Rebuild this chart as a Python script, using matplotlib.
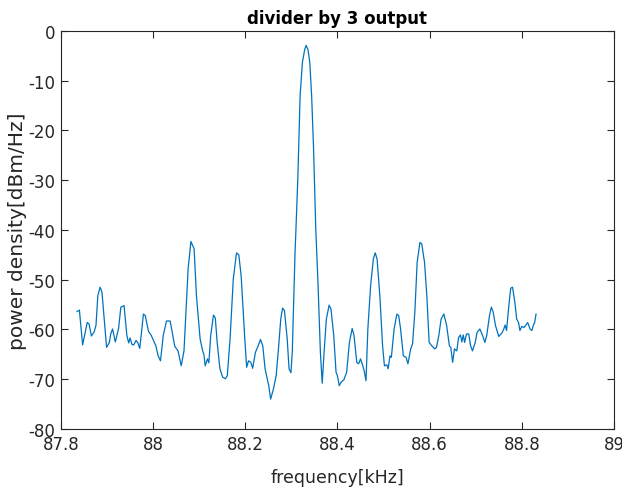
import numpy as np
import matplotlib
matplotlib.use('Agg')
import matplotlib.pyplot as plt

# spectrum
freq = [87.835, 87.840, 87.847, 87.857, 87.861, 87.866, 87.872, 87.876, 87.880, 87.885,
        87.889, 87.899, 87.905, 87.908, 87.912, 87.918, 87.925, 87.930, 87.937, 87.943,
        87.947, 87.950, 87.954, 87.958, 87.963, 87.967, 87.971, 87.979, 87.983, 87.990,
        87.996, 88.006, 88.011, 88.016, 88.022, 88.029, 88.037, 88.047, 88.054, 88.061,
        88.067, 88.076, 88.082, 88.089, 88.094, 88.102, 88.108, 88.110, 88.113, 88.118,
        88.121, 88.125, 88.131, 88.135, 88.139, 88.145, 88.151, 88.157, 88.161, 88.167,
        88.174, 88.181, 88.186, 88.191, 88.199, 88.203, 88.207, 88.212, 88.216, 88.222,
        88.228, 88.233, 88.238, 88.243, 88.248, 88.251, 88.255, 88.261, 88.267, 88.272,
        88.277, 88.281, 88.285, 88.291, 88.295, 88.299, 88.302, 88.305, 88.308, 88.310,
        88.314, 88.317, 88.319, 88.324, 88.329, 88.332, 88.336, 88.340, 88.344, 88.348,
        88.353, 88.358, 88.363, 88.367, 88.371, 88.376, 88.382, 88.386, 88.392, 88.397,
        88.400, 88.404, 88.408, 88.414, 88.420, 88.426, 88.432, 88.436, 88.442, 88.446,
        88.450, 88.455, 88.458, 88.462, 88.466, 88.472, 88.478, 88.482, 88.486, 88.492,
        88.498, 88.502, 88.507, 88.510, 88.514, 88.517, 88.523, 88.529, 88.533, 88.537,
        88.543, 88.549, 88.553, 88.559, 88.563, 88.568, 88.573, 88.579, 88.583, 88.589,
        88.594, 88.599, 88.605, 88.611, 88.615, 88.620, 88.625, 88.631, 88.637, 88.643,
        88.646, 88.650, 88.654, 88.659, 88.663, 88.667, 88.670, 88.673, 88.676, 88.680,
        88.685, 88.689, 88.693, 88.699, 88.703, 88.709, 88.715, 88.720, 88.724, 88.730,
        88.734, 88.738, 88.743, 88.750, 88.757, 88.761, 88.764, 88.767, 88.772, 88.776,
        88.780, 88.785, 88.789, 88.793, 88.796, 88.800, 88.805, 88.809, 88.813, 88.818,
        88.822, 88.825, 88.828, 88.831]

power = [-56.4, -56.1, -63.1, -58.6, -58.9, -61.3, -60.5, -59.2, -53.2, -51.5,
         -52.5, -63.6, -62.6, -60.9, -59.9, -62.5, -59.8, -55.5, -55.2, -61.2,
         -62.7, -61.7, -63.0, -63.1, -62.2, -62.7, -63.8, -56.9, -57.2, -60.4,
         -61.2, -63.3, -65.3, -66.3, -61.2, -58.3, -58.3, -63.4, -64.3, -67.3,
         -64.3, -47.8, -42.3, -43.8, -53.2, -61.9, -64.5, -64.9, -67.3, -65.9,
         -66.7, -61.2, -57.1, -57.7, -62.6, -67.9, -69.6, -69.9, -69.3, -61.9,
         -49.8, -44.6, -45.0, -49.2, -61.9, -67.6, -66.3, -66.6, -67.8, -64.6,
         -63.3, -62.0, -63.3, -67.9, -70.1, -71.3, -74.0, -72.0, -69.3, -63.9,
         -57.9, -55.7, -56.2, -61.9, -67.9, -68.7, -64.6, -54.5, -44.5, -39.8,
         -29.7, -19.7, -13.0, -6.3, -3.7, -2.9, -3.7, -6.3, -13.0, -23.1,
         -39.8, -51.2, -64.6, -70.8, -64.6, -57.9, -55.1, -55.9, -61.2, -68.6,
         -69.3, -71.3, -70.6, -70.1, -68.6, -62.6, -59.8, -61.2, -66.6, -66.9,
         -65.9, -67.3, -68.3, -70.3, -59.9, -51.2, -45.8, -44.6, -45.8, -53.2,
         -63.3, -67.3, -67.1, -67.9, -65.3, -65.6, -59.9, -56.9, -57.2, -59.9,
         -65.3, -65.6, -66.9, -63.9, -62.9, -56.5, -46.5, -42.5, -42.8, -46.5,
         -53.2, -62.6, -63.3, -63.9, -63.6, -61.2, -57.9, -56.9, -59.2, -63.3,
         -63.6, -66.6, -63.9, -64.3, -61.6, -61.1, -62.5, -61.1, -62.6, -60.9,
         -60.9, -63.3, -64.3, -62.6, -60.6, -59.9, -61.2, -62.6, -61.2, -57.2,
         -55.5, -56.5, -59.2, -61.4, -60.7, -59.9, -59.1, -60.2, -55.2, -51.7,
         -51.5, -54.5, -57.9, -58.6, -60.2, -59.4, -59.6, -59.1, -58.6, -59.9,
         -60.2, -59.2, -58.6, -56.9]

xticks = [87.8, 88, 88.2, 88.4, 88.6, 88.8, 89]
xticklabels = ['87.8', '88', '88.2', '88.4', '88.6', '88.8', '89']
yticks = [-80, -70, -60, -50, -40, -30, -20, -10, 0]

plt.rcParams['axes.unicode_minus'] = False
plt.rcParams['font.family'] = 'DejaVu Sans'

fig = plt.figure(figsize=(6.22, 4.89), dpi=100)
ax = fig.add_axes([0.098, 0.1207, 0.889, 0.8139])

ax.plot(freq, power, color='#0072BD', linewidth=0.9)

ax.set_xlim(87.8, 89)
ax.set_ylim(-80, 0)
ax.set_xticks(xticks)
ax.set_xticklabels(xticklabels)
ax.set_yticks(yticks)
ax.set_yticklabels([str(v) for v in yticks])

dark = '#262626'
for s in ax.spines.values():
    s.set_color(dark)
    s.set_linewidth(0.8)
ax.tick_params(direction='in', length=5, width=0.8, colors=dark, labelsize=12,
               top=True, right=True, pad=4)

ax.set_xlabel('frequency[kHz]', fontsize=12.5, color=dark, labelpad=11)
ax.set_ylabel('power density[dBm/Hz]', fontsize=14.5, color=dark, labelpad=1)
ax.set_title('divider by 3 output', fontsize=12, fontweight='bold', color='black', pad=6)

fig.savefig('out.png', dpi=100)
